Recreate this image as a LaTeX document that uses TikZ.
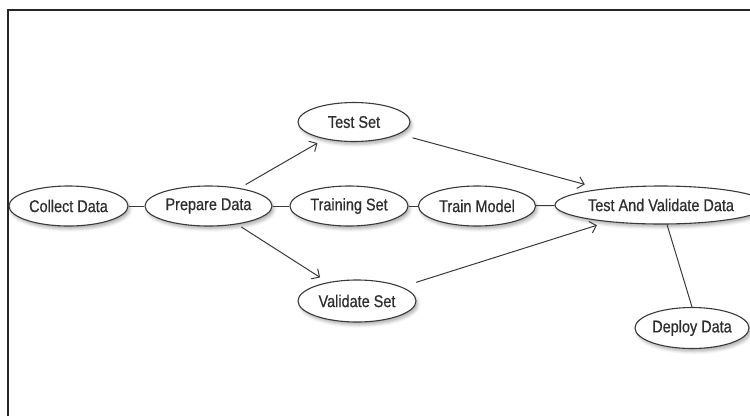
\documentclass[tikz,border=0pt]{standalone}
\usepackage{fontspec}
\setmainfont{Liberation Sans}[FakeStretch=0.85,FakeBold=0.6]
\usetikzlibrary{shapes.geometric,arrows.meta,shadows.blur}
\definecolor{inkgray}{HTML}{2E2E2E}
\definecolor{edgegray}{HTML}{3A3A3A}
\tikzset{
  stage/.style={ellipse, draw=edgegray, line width=1.1pt, fill=white,
    inner sep=0pt, text=inkgray, font=\fontsize{17}{19}\selectfont,
    blur shadow={shadow xshift=2pt, shadow yshift=-3pt,
      shadow opacity=30, shadow blur radius=3pt}},
  link/.style={draw=edgegray, line width=1pt},
  flow/.style={link, -{Straight Barb[length=6pt,width=12pt,line width=1pt]}},
  frameline/.style={draw=black!85, line width=2pt}
}
\begin{document}
\begin{tikzpicture}[x=1pt,y=-1pt]
  \useasboundingbox (0,0) rectangle (750,416);
  % open frame around the chart
  \draw[frameline] (8,416) -- (8,10) -- (750,10);

  % stages
  \node[stage, minimum width=119pt, minimum height=40pt] (collect) at (68.5,206) {Collect Data};
  \node[stage, minimum width=127pt, minimum height=40pt] (prep) at (208.5,206) {Prepare Data};
  \node[stage, minimum width=112pt, minimum height=39pt] (test) at (354,122) {Test Set};
  \node[stage, minimum width=118pt, minimum height=40pt] (train) at (349,206) {Training Set};
  \node[stage, minimum width=117pt, minimum height=40pt] (model) at (477,206) {Train Model};
  \node[stage, minimum width=212pt, minimum height=38pt] (tvd) at (661,205) {Test And Validate Data};
  \node[stage, minimum width=118pt, minimum height=42pt] (valid) at (357,301) {Validate Set};
  \node[stage, minimum width=114pt, minimum height=41pt] (deploy) at (692,328) {Deploy Data};

  % main chain
  \draw[link] (collect) -- (prep);
  \draw[link] (prep) -- (train);
  \draw[link] (train) -- (model);
  \draw[link] (model) -- (tvd);
  \draw[link] ([xshift=6pt]tvd.south) -- (deploy.north);

  % split and merge
  \draw[flow, shorten <=7pt, shorten >=8pt] (prep) -- (test);
  \draw[flow, shorten <=5pt, shorten >=9pt] (prep) -- (valid);
  \draw[flow, shorten <=14pt, shorten >=17pt] (test) -- (tvd);
  \draw[flow, shorten <=15pt, shorten >=11pt] (valid) -- (tvd);
\end{tikzpicture}
\end{document}
